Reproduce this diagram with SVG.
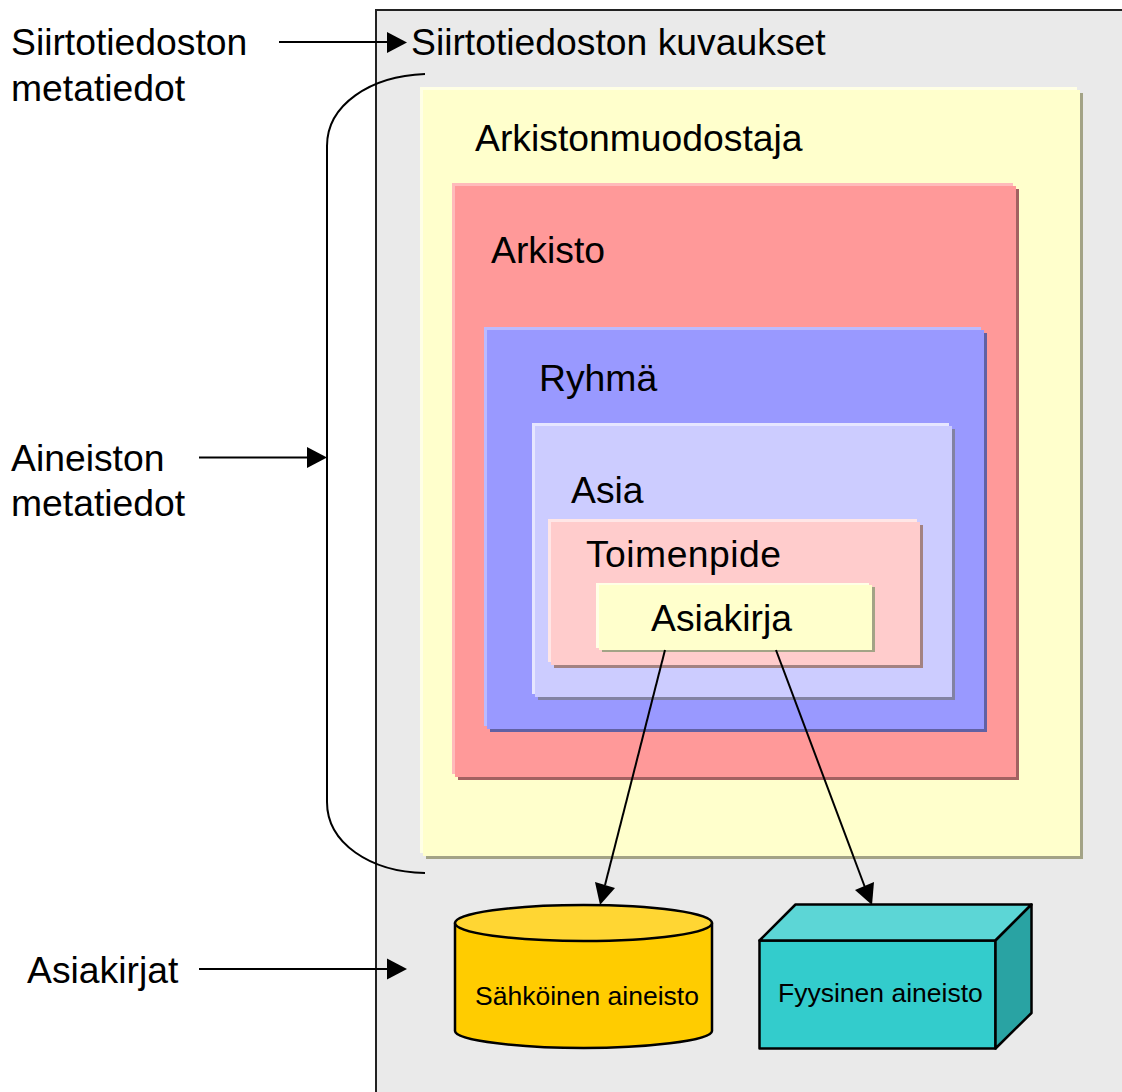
<svg xmlns="http://www.w3.org/2000/svg" width="1122" height="1092" viewBox="0 0 1122 1092">
<style>
text{font-family:"Liberation Sans",Arial,sans-serif;fill:#000}
.l{font-size:37.300px}
.s{font-size:26.500px}
.c{fill:none;stroke:#000;stroke-width:2}
.o{stroke:#000;stroke-width:2.500;stroke-linejoin:round}
.h{fill:#000}
</style>
<rect width="1122" height="1092" fill="#fff"/>
<path d="M1122 10H376V1092H1122Z" fill="#eaeaea"/>
<path d="M1122 10H376V1092" fill="none" stroke="#222" stroke-width="2"/>

<g id="arkistonmuodostaja">
<rect x="426" y="93" width="657" height="766" fill="#a3a386"/>
<rect x="420" y="87" width="657" height="766" fill="#ffffe6"/>
<rect x="423" y="90" width="657" height="766" fill="#ffffcc"/>
<text class="l" x="475" y="151">Arkistonmuodostaja</text>
</g>
<g id="arkisto">
<rect x="458" y="189" width="561" height="591" fill="#a36161"/>
<rect x="452" y="183" width="561" height="591" fill="#ffbbbb"/>
<rect x="455" y="186" width="561" height="591" fill="#ff9999"/>
<text class="l" x="491" y="263">Arkisto</text>
</g>
<g id="ryhma">
<rect x="490" y="333" width="497" height="399" fill="#6161a3"/>
<rect x="484" y="327" width="497" height="399" fill="#bbbbff"/>
<rect x="487" y="330" width="497" height="399" fill="#9999ff"/>
<text class="l" x="539" y="391">Ryhmä</text>
</g>
<g id="asia">
<rect x="538" y="429" width="417" height="271" fill="#8282a3"/>
<rect x="532" y="423" width="417" height="271" fill="#e6e6ff"/>
<rect x="535" y="426" width="417" height="271" fill="#ccccff"/>
<text class="l" x="571" y="503">Asia</text>
</g>
<g id="toimenpide">
<rect x="554" y="525" width="369" height="143" fill="#a38282"/>
<rect x="548" y="519" width="369" height="143" fill="#ffe6e6"/>
<rect x="551" y="522" width="369" height="143" fill="#ffcccc"/>
<text class="l" x="586" y="567" textLength="195">Toimenpide</text>
</g>
<g id="asiakirja">
<rect x="602" y="587" width="273" height="65" fill="#a3a386"/>
<rect x="596" y="583" width="273" height="65" fill="#ffffe6"/>
<rect x="599" y="585" width="273" height="65" fill="#ffffcc"/>
<text class="l" x="651" y="631">Asiakirja</text>
</g>
<g id="sahkoinen">
<path class="o" d="M455 923V1031C455 1041 525 1048 583.500 1048C642 1048 712 1041 712 1031V923Z" fill="#ffcc00"/>
<ellipse class="o" cx="583.500" cy="923" rx="128.500" ry="18" fill="#ffd633"/>
<text class="s" x="475" y="1005">Sähköinen aineisto</text>
</g>
<g id="fyysinen">
<rect class="o" x="759.500" y="940.500" width="236" height="108" fill="#33cccc"/>
<path class="o" d="M759.500 940.500L795.500 904.500H1031.500L995.500 940.500Z" fill="#5cd6d6"/>
<path class="o" d="M995.500 940.500L1031.500 904.500V1013L995.500 1048.500Z" fill="#29a3a3"/>
<text class="s" x="778" y="1002">Fyysinen aineisto</text>
</g>
<text class="l" x="11" y="54.500">Siirtotiedoston</text>
<text class="l" x="11" y="100.500">metatiedot</text>
<text class="l" x="411" y="54.500">Siirtotiedoston kuvaukset</text>
<text class="l" x="11" y="470.500">Aineiston</text>
<text class="l" x="11" y="515.500">metatiedot</text>
<text class="l" x="27" y="982.500">Asiakirjat</text>
<g id="connectors">
<path class="c" d="M425 74C370 76 327 105 327 146V802C327 843 370 872 425 873"/>
<path class="c" d="M279 42H390"/><path class="h" d="M407 42.500L387 32V53Z"/>
<path class="c" d="M199 457.500H310"/><path class="h" d="M327 457.500L307 447V468Z"/>
<path class="c" d="M199 969H390"/><path class="h" d="M407 969L387 958.500V979.500Z"/>
<path class="c" d="M665 650L605 885"/><path class="h" d="M600 905L595 882L615 888Z"/>
<path class="c" d="M776 650L866 890"/><path class="h" d="M872 905L855 890L874 882Z"/>
</g>
</svg>
